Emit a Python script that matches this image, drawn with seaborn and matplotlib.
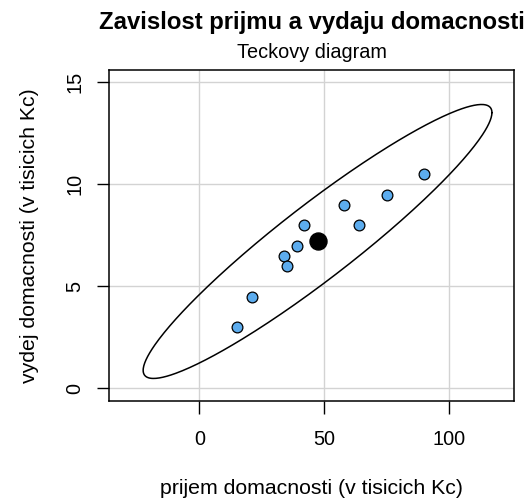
import numpy as np
import pandas as pd
import seaborn as sns
import matplotlib
matplotlib.use("Agg")
import matplotlib.pyplot as plt

prijem = [15, 21, 34, 35, 39, 42, 58, 64, 75, 90]
vydej = [3, 4.5, 6.5, 6, 7, 8, 9, 8, 9.5, 10.5]
x_ticks = [0, 50, 100]
y_ticks = [0, 5, 10, 15]
f_quant = 4.2565  # qf(0.95, 2, 9), data ellipse level 0.95

df = pd.DataFrame({"prijem": prijem, "vydej": vydej})
mean = df[["prijem", "vydej"]].mean()
cov = df[["prijem", "vydej"]].cov().values

# data ellipse (car::dataEllipse style)
radius = np.sqrt(2 * f_quant)
t = np.linspace(0, 2 * np.pi, 400)
L = np.linalg.cholesky(cov)
circle = np.vstack([np.cos(t), np.sin(t)])
ell = (L @ circle) * radius
ell_df = pd.DataFrame({"x": ell[0] + mean["prijem"], "y": ell[1] + mean["vydej"]})

sns.set_style("white")
plt.rcParams["font.family"] = ["Liberation Sans", "DejaVu Sans"]
plt.rcParams["text.color"] = "black"
plt.rcParams["axes.labelcolor"] = "black"
plt.rcParams["xtick.color"] = "black"
plt.rcParams["ytick.color"] = "black"

fig = plt.figure(figsize=(5.29, 5.01), dpi=100)
ax = fig.add_axes([0.2066, 0.2002, 0.7656, 0.6601])

for v in x_ticks:
    ax.axvline(v, color="#d3d3d3", lw=1, zorder=0)
for v in y_ticks:
    ax.axhline(v, color="#d3d3d3", lw=1, zorder=0)

ax.plot(ell_df["x"], ell_df["y"], color="black", lw=1.1, zorder=2)
sns.scatterplot(data=df, x="prijem", y="vydej", color="#5CACEE", edgecolor="black",
                linewidth=0.9, s=60, zorder=3, ax=ax)
ax.scatter([mean["prijem"]], [mean["vydej"]], color="black", s=150, zorder=4)

ax.set_xlim(-36, 126)
ax.set_ylim(-0.6, 15.6)
ax.set_xticks(x_ticks)
ax.set_yticks(y_ticks)
ax.set_yticklabels([str(v) for v in y_ticks], rotation=90, va="center")
ax.tick_params(axis="both", direction="out", length=9, width=1, labelsize=14.3,
               left=True, bottom=True)
ax.tick_params(axis="x", pad=12)
ax.tick_params(axis="y", pad=9)
for s in ax.spines.values():
    s.set_color("black")
    s.set_linewidth(1.1)

ax.set_xlabel("prijem domacnosti (v tisicich Kc)", fontsize=15.3, labelpad=22)
ax.set_ylabel("vydej domacnosti (v tisicich Kc)", fontsize=15.3, labelpad=19)

fig.text(0.59, 1 - 22 / 501, "Zavislost prijmu a vydaju domacnosti", ha="center",
         va="center", fontsize=17.2, fontweight="bold")
fig.text(0.59, 1 - 52 / 501, "Teckovy diagram", ha="center", va="center", fontsize=14.3)

fig.savefig("out.png", dpi=100)
